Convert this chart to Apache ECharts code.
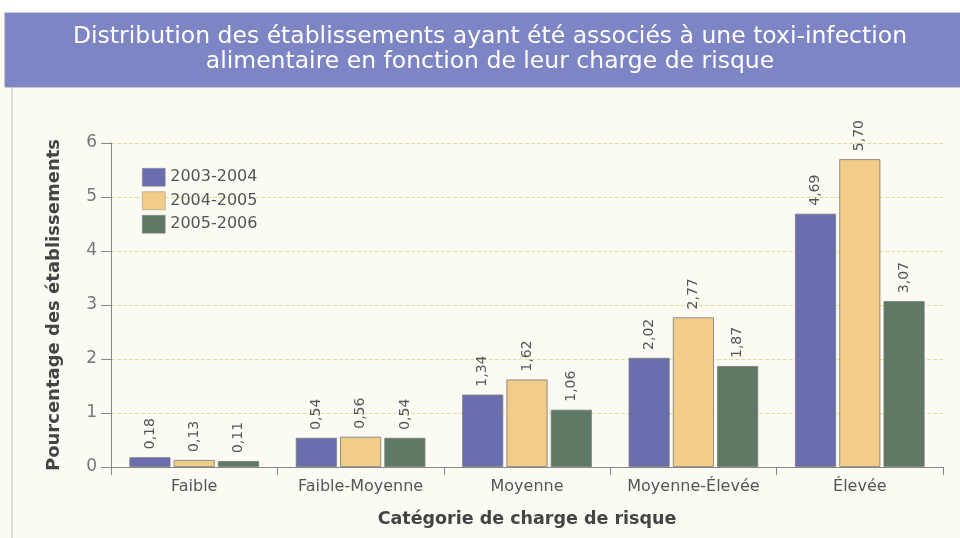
<!DOCTYPE html>
<html>
<head>
<meta charset="utf-8">
<style>
    html, body {margin:0;padding:0;background:#fff;}
    #chart {width:960px;height:538px;}
</style>
</head>
<body>
<div id="chart"></div>
<script src="https://cdn.jsdelivr.net/npm/echarts@6/dist/echarts.min.js"></script>
<script>
var categories = ['Faible', 'Faible-Moyenne', 'Moyenne', 'Moyenne-Élevée', 'Élevée'];
var seriesNames = ['2003-2004', '2004-2005', '2005-2006'];
var v2003 = [0.18, 0.54, 1.34, 2.02, 4.69];
var v2004 = [0.13, 0.56, 1.62, 2.77, 5.70];
var v2005 = [0.11, 0.54, 1.06, 1.87, 3.07];
var colors = ['#6a6eae', '#f2cd88', '#5e7a65'];
var yTicks = [0, 1, 2, 3, 4, 5, 6];

var FONT = 'DejaVu Sans';

// libellés à la française : virgule décimale
function fr(v) {
    return v.toFixed(2).replace('.', ',');
}

var labelOption = {
    show: true,
    position: 'top',
    rotate: 90,
    align: 'left',
    verticalAlign: 'middle',
    distance: 8,
    fontSize: 14,
    fontFamily: FONT,
    color: '#555',
    formatter: function (p) { return fr(p.value); }
};

function makeSeries(name, data, i) {
    return {
        name: name,
        type: 'bar',
        data: data,
        barWidth: 41,
        barGap: '8%',
        itemStyle: {color: colors[i], borderColor: '#777', borderWidth: 0.8},
        label: labelOption
    };
}

var chart = echarts.init(document.getElementById('chart'));
chart.setOption({
    backgroundColor: '#fbfbf3',
    animation: false,
    textStyle: {fontFamily: FONT},
    graphic: [
        {type: 'rect', shape: {x: 0, y: 0, width: 960, height: 12}, style: {fill: '#ffffff'}, silent: true},
        {type: 'rect', shape: {x: 5, y: 13, width: 960, height: 74}, style: {fill: '#7e85c5', stroke: '#8a8fbf', lineWidth: 1}, silent: true},
        {type: 'line', shape: {x1: 12, y1: 87, x2: 12, y2: 538}, style: {stroke: '#bbb', lineWidth: 1}, silent: true},
        {type: 'text', x: 490, y: 24, style: {
            text: 'Distribution des établissements ayant été associés à une toxi-infection\nalimentaire en fonction de leur charge de risque',
            fill: '#ffffff', font: '23.5px "DejaVu Sans"', align: 'center', lineHeight: 25
        }}
    ],
    legend: {
        data: seriesNames,
        orient: 'vertical',
        icon: 'rect',
        left: 137,
        top: 163,
        itemWidth: 23,
        itemHeight: 18,
        itemGap: 5,
        textStyle: {fontSize: 16, color: '#555', fontFamily: FONT},
        itemStyle: {borderColor: '#888', borderWidth: 0.5}
    },
    grid: {left: 111, right: 17, top: 143, bottom: 71},
    xAxis: {
        type: 'category',
        data: categories,
        name: 'Catégorie de charge de risque',
        nameLocation: 'middle',
        nameGap: 43,
        nameTextStyle: {fontSize: 17.5, fontWeight: 'bold', color: '#444'},
        axisLine: {lineStyle: {color: '#888', width: 1}},
        axisTick: {show: true, interval: 0, length: 8, lineStyle: {color: '#888'}},
        axisLabel: {interval: 0, fontSize: 16, color: '#555', margin: 12}
    },
    yAxis: {
        type: 'value',
        min: yTicks[0],
        max: yTicks[yTicks.length - 1],
        interval: 1,
        name: 'Pourcentage des établissements',
        nameLocation: 'middle',
        nameGap: 48,
        nameTextStyle: {fontSize: 18, fontWeight: 'bold', color: '#444'},
        axisLine: {show: true, lineStyle: {color: '#888', width: 1}},
        axisTick: {show: true, length: 10, lineStyle: {color: '#888'}},
        axisLabel: {fontSize: 17, color: '#777', margin: 14},
        splitLine: {show: true, lineStyle: {color: '#e9dd9c', type: 'dashed', width: 1}}
    },
    series: [
        makeSeries(seriesNames[0], v2003, 0),
        makeSeries(seriesNames[1], v2004, 1),
        makeSeries(seriesNames[2], v2005, 2)
    ]
});
</script>
</body>
</html>
